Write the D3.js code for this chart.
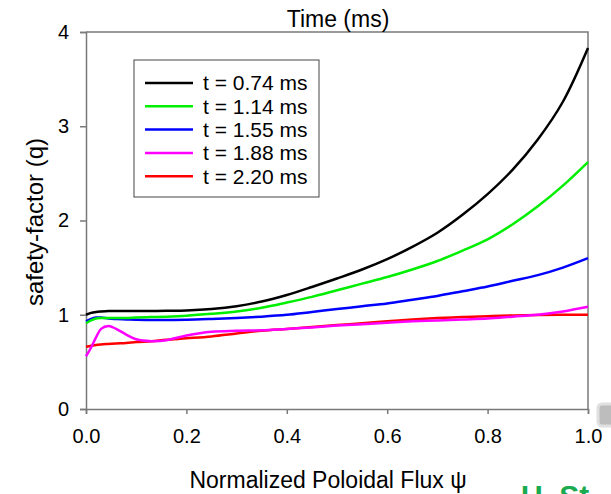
<!DOCTYPE html>
<html>
<head>
  <meta charset="utf-8">
  <script src="https://d3js.org/d3.v7.min.js"></script>
  <style>
    body { margin: 0; background: #fff; }
    svg { display: block; font-family: "Liberation Sans", Arial, sans-serif; }
  </style>
</head>
<body>
  <svg width="611" height="494"></svg>
  <script>
    // normalized poloidal flux grid
    const psi = [0, 0.01, 0.02, 0.03, 0.045, 0.06, 0.08, 0.1, 0.13, 0.16, 0.2, 0.25, 0.3, 0.35,
      0.4, 0.45, 0.5, 0.55, 0.6, 0.65, 0.7, 0.75, 0.8, 0.85, 0.9, 0.95, 1.0];

    // q profiles at each time
    const q074 = [1.00, 1.02, 1.03, 1.035, 1.04, 1.04, 1.04, 1.04, 1.04, 1.042, 1.045, 1.06, 1.09, 1.14,
      1.21, 1.295, 1.385, 1.48, 1.59, 1.72, 1.87, 2.06, 2.28, 2.54, 2.86, 3.26, 3.83];
    const q114 = [0.91, 0.94, 0.96, 0.965, 0.965, 0.965, 0.965, 0.97, 0.975, 0.98, 0.99, 1.01, 1.035, 1.075,
      1.13, 1.19, 1.26, 1.33, 1.40, 1.48, 1.57, 1.68, 1.80, 1.96, 2.15, 2.37, 2.62];
    const q155 = [0.93, 0.955, 0.97, 0.97, 0.96, 0.955, 0.95, 0.947, 0.945, 0.945, 0.947, 0.955, 0.965, 0.98,
      1.00, 1.03, 1.06, 1.09, 1.12, 1.16, 1.20, 1.25, 1.30, 1.36, 1.42, 1.50, 1.60];
    const q188 = [0.56, 0.65, 0.76, 0.85, 0.88, 0.85, 0.79, 0.74, 0.72, 0.73, 0.78, 0.82, 0.83, 0.835,
      0.85, 0.865, 0.885, 0.90, 0.915, 0.93, 0.94, 0.95, 0.96, 0.98, 1.00, 1.035, 1.085];
    const q220 = [0.66, 0.67, 0.68, 0.685, 0.69, 0.695, 0.70, 0.71, 0.72, 0.735, 0.75, 0.77, 0.80, 0.83,
      0.85, 0.87, 0.89, 0.91, 0.93, 0.95, 0.965, 0.975, 0.985, 0.993, 0.998, 1.0, 1.0];

    const labels = ["t = 0.74 ms", "t = 1.14 ms", "t = 1.55 ms", "t = 1.88 ms", "t = 2.20 ms"];
    const colors = ["#000000", "#00ee00", "#0000ff", "#ff00ff", "#ff0000"];
    const xTicks = [0, 0.2, 0.4, 0.6, 0.8, 1.0];
    const yTicks = [0, 1, 2, 3, 4];

    const series = [q074, q114, q155, q188, q220].map((q, i) => ({
      label: labels[i], color: colors[i],
      values: psi.map((p, j) => ({ x: p, y: q[j] }))
    }));

    const svg = d3.select("svg");
    const mLeft = 86, mRight = 588, mTop = 32, mBottom = 409;

    const x = d3.scaleLinear().domain([0, 1]).range([mLeft, mRight]);
    const y = d3.scaleLinear().domain([0, 4]).range([mBottom, mTop]);

    const axisColor = "#7a7a7a";

    // frame top / right
    svg.append("path")
      .attr("d", `M${mLeft},${mTop}H${mRight}V${mBottom}`)
      .attr("fill", "none").attr("stroke", axisColor).attr("stroke-width", 1.5);

    // x axis
    const gx = svg.append("g")
      .attr("transform", `translate(0,${mBottom})`)
      .call(d3.axisBottom(x).tickValues(xTicks).tickFormat(d3.format(".1f")).tickSizeOuter(0).tickSize(5).tickPadding(15));
    gx.selectAll("path, line").attr("stroke", axisColor).attr("stroke-width", 1.5);
    gx.selectAll("text").attr("font-size", 20).attr("fill", "#000");
    gx.attr("font-family", null);

    // y axis
    const gy = svg.append("g")
      .attr("transform", `translate(${mLeft},0)`)
      .call(d3.axisLeft(y).tickValues(yTicks).tickFormat(d3.format("d")).tickSizeOuter(0).tickSize(6).tickPadding(11));
    gy.selectAll("path, line").attr("stroke", axisColor).attr("stroke-width", 1.5);
    gy.selectAll("text").attr("font-size", 20).attr("fill", "#000");
    gy.attr("font-family", null);

    // curves
    const line = d3.line().x(d => x(d.x)).y(d => y(d.y)).curve(d3.curveCatmullRom.alpha(0.5));
    svg.append("g").selectAll("path")
      .data(series.slice().reverse())
      .join("path")
      .attr("d", d => line(d.values))
      .attr("fill", "none")
      .attr("stroke", d => d.color)
      .attr("stroke-width", 2.5);

    // legend
    const lg = svg.append("g");
    lg.append("rect")
      .attr("x", 134).attr("y", 60).attr("width", 185).attr("height", 137)
      .attr("fill", "#fff").attr("stroke", "#444").attr("stroke-width", 1);
    const rows = lg.selectAll("g.row").data(series).join("g")
      .attr("class", "row")
      .attr("transform", (d, i) => `translate(0,${83 + i * 23.3})`);
    rows.append("line")
      .attr("x1", 145).attr("x2", 193)
      .attr("stroke", d => d.color).attr("stroke-width", 2.5);
    rows.append("text")
      .attr("x", 203).attr("dy", "0.35em")
      .attr("font-size", 21)
      .text(d => d.label);

    // titles
    svg.append("text")
      .attr("x", 338).attr("y", 27)
      .attr("text-anchor", "middle").attr("font-size", 23)
      .text("Time (ms)");
    svg.append("text")
      .attr("x", 328).attr("y", 488)
      .attr("text-anchor", "middle").attr("font-size", 23)
      .text("Normalized Poloidal Flux ψ");
    svg.append("text")
      .attr("transform", "translate(43,222) rotate(-90)")
      .attr("text-anchor", "middle").attr("font-size", 24)
      .text("safety-factor (q)");

    // slide fragments at the edge
    svg.append("rect")
      .attr("x", 598).attr("y", 404).attr("width", 24).attr("height", 22).attr("rx", 4)
      .attr("fill", "#bdbdbd").attr("stroke", "#e0e0e0").attr("stroke-width", 3);
    svg.append("text")
      .attr("x", 521).attr("y", 506)
      .attr("font-size", 30).attr("font-weight", "bold").attr("fill", "#1aaa50")
      .text("U. St");
  </script>
</body>
</html>
